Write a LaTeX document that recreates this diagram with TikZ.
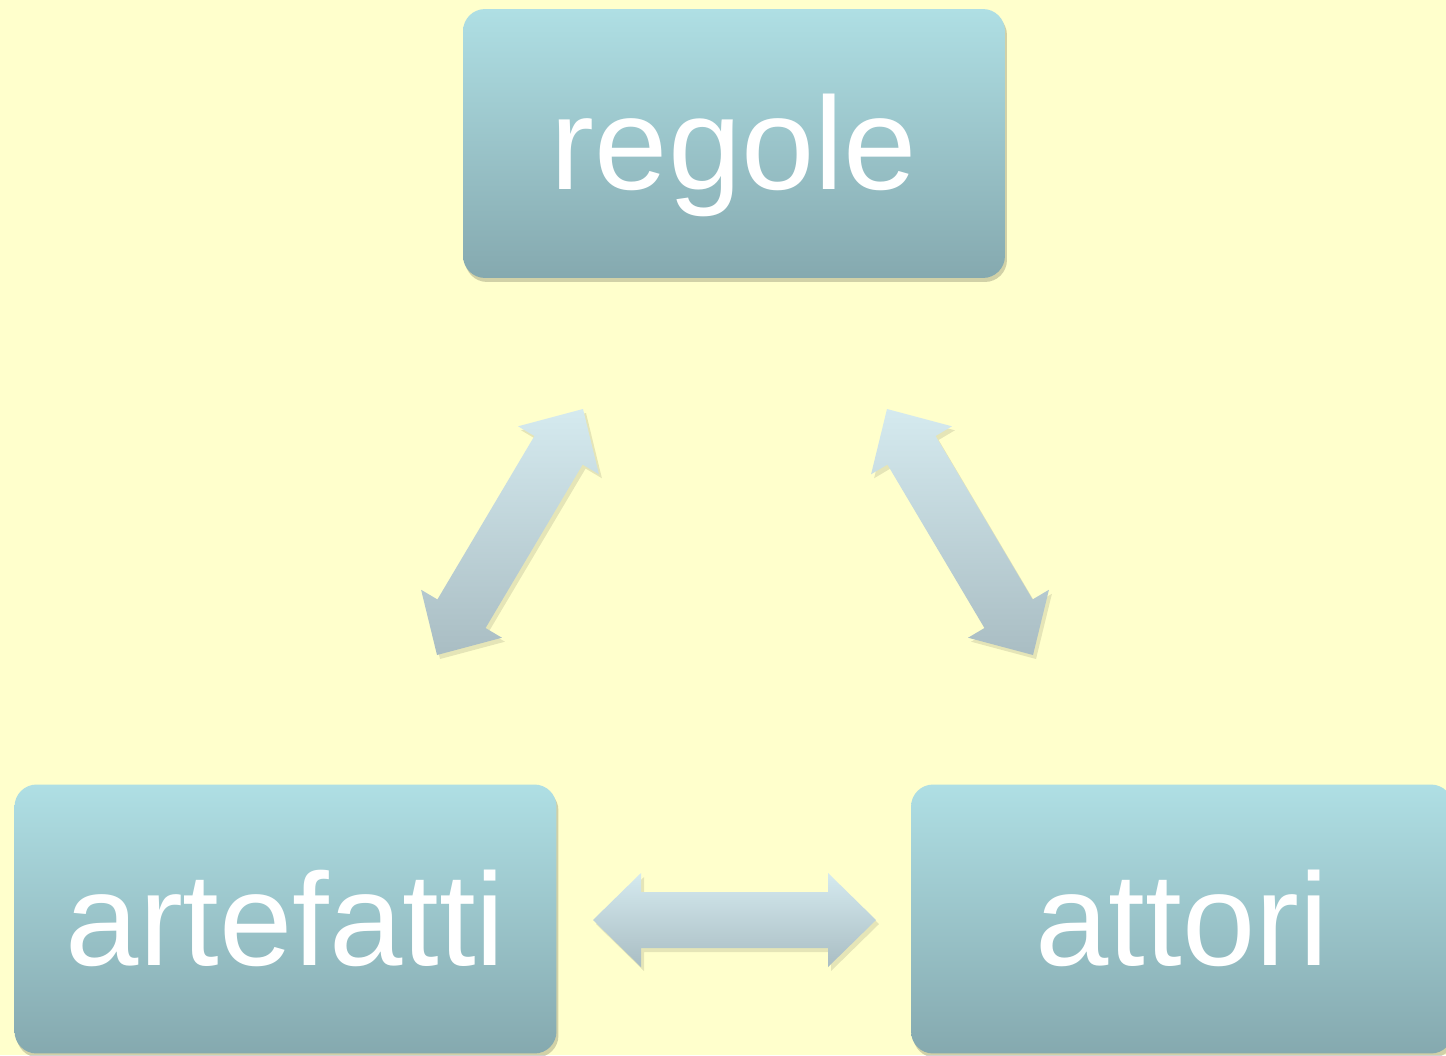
\documentclass[tikz,border=0pt]{standalone}
\usepackage{fontspec}
\setmainfont{Liberation Sans}
\usetikzlibrary{calc,shadows}
\definecolor{bgyellow}{HTML}{FFFFCC}
\definecolor{boxtop}{HTML}{AFDFE4}
\definecolor{boxbot}{HTML}{85A9AF}
\definecolor{arrtop}{HTML}{D5EAEF}
\definecolor{arrbot}{HTML}{A9BDC3}
\tikzset{
  box/.style={rectangle, rounded corners=0.44cm, top color=boxtop, bottom color=boxbot,
    draw=none, minimum width=10.84cm, minimum height=5.38cm, text=white,
    font=\fontsize{75}{80}\selectfont, text height=1.84cm, text depth=0pt, inner sep=0pt,
    drop shadow={shadow xshift=0.04cm, shadow yshift=-0.08cm, opacity=0.18, fill=black}},
  blockarrow/.style={top color=arrtop, bottom color=arrbot, draw=none},
  arrowshadow/.style={fill=black, opacity=0.10}
}
% #1 style, #2 prefix, #3 first tip, #4 second tip
\newcommand\dblblockarrow[4][blockarrow]{%
  \coordinate (#2ha) at ($(#3)!0.96cm!(#4)$);
  \coordinate (#2hb) at ($(#4)!0.96cm!(#3)$);
  \path[#1] (#3) -- ($(#2ha)!0.94cm!90:(#4)$) -- ($(#2ha)!0.56cm!90:(#4)$)
    -- ($(#2hb)!0.56cm!-90:(#3)$) -- ($(#2hb)!0.94cm!-90:(#3)$) -- (#4)
    -- ($(#2hb)!0.94cm!90:(#3)$) -- ($(#2hb)!0.56cm!90:(#3)$)
    -- ($(#2ha)!0.56cm!-90:(#4)$) -- ($(#2ha)!0.94cm!-90:(#4)$) -- cycle;
}
\begin{document}
\begin{tikzpicture}[x=0.02cm,y=-0.02cm]
  \clip (0,0) rectangle (1446,1055);
  \fill[bgyellow] (0,0) rectangle (1446,1055);

  \node[box] (regole) at (734,143.5) {regole};
  \node[box] (artefatti) at (285.5,919) {artefatti};
  \node[box] (attori) at (1182,919) {attori};

  % arrow tips
  \coordinate (l1) at (583,409);
  \coordinate (l2) at (437,655);
  \coordinate (r1) at (887,409);
  \coordinate (r2) at (1033,655);
  \coordinate (h1) at (593,920);
  \coordinate (h2) at (876,920);
  \coordinate (sl1) at (586,413);
  \coordinate (sl2) at (440,659);
  \coordinate (sr1) at (890,413);
  \coordinate (sr2) at (1036,659);
  \coordinate (sh1) at (596,924);
  \coordinate (sh2) at (879,924);

  \dblblockarrow[arrowshadow]{sla}{sl1}{sl2}
  \dblblockarrow[arrowshadow]{sra}{sr1}{sr2}
  \dblblockarrow[arrowshadow]{sha}{sh1}{sh2}
  \dblblockarrow{la}{l1}{l2}
  \dblblockarrow{ra}{r1}{r2}
  \dblblockarrow{ha}{h1}{h2}
\end{tikzpicture}
\end{document}
